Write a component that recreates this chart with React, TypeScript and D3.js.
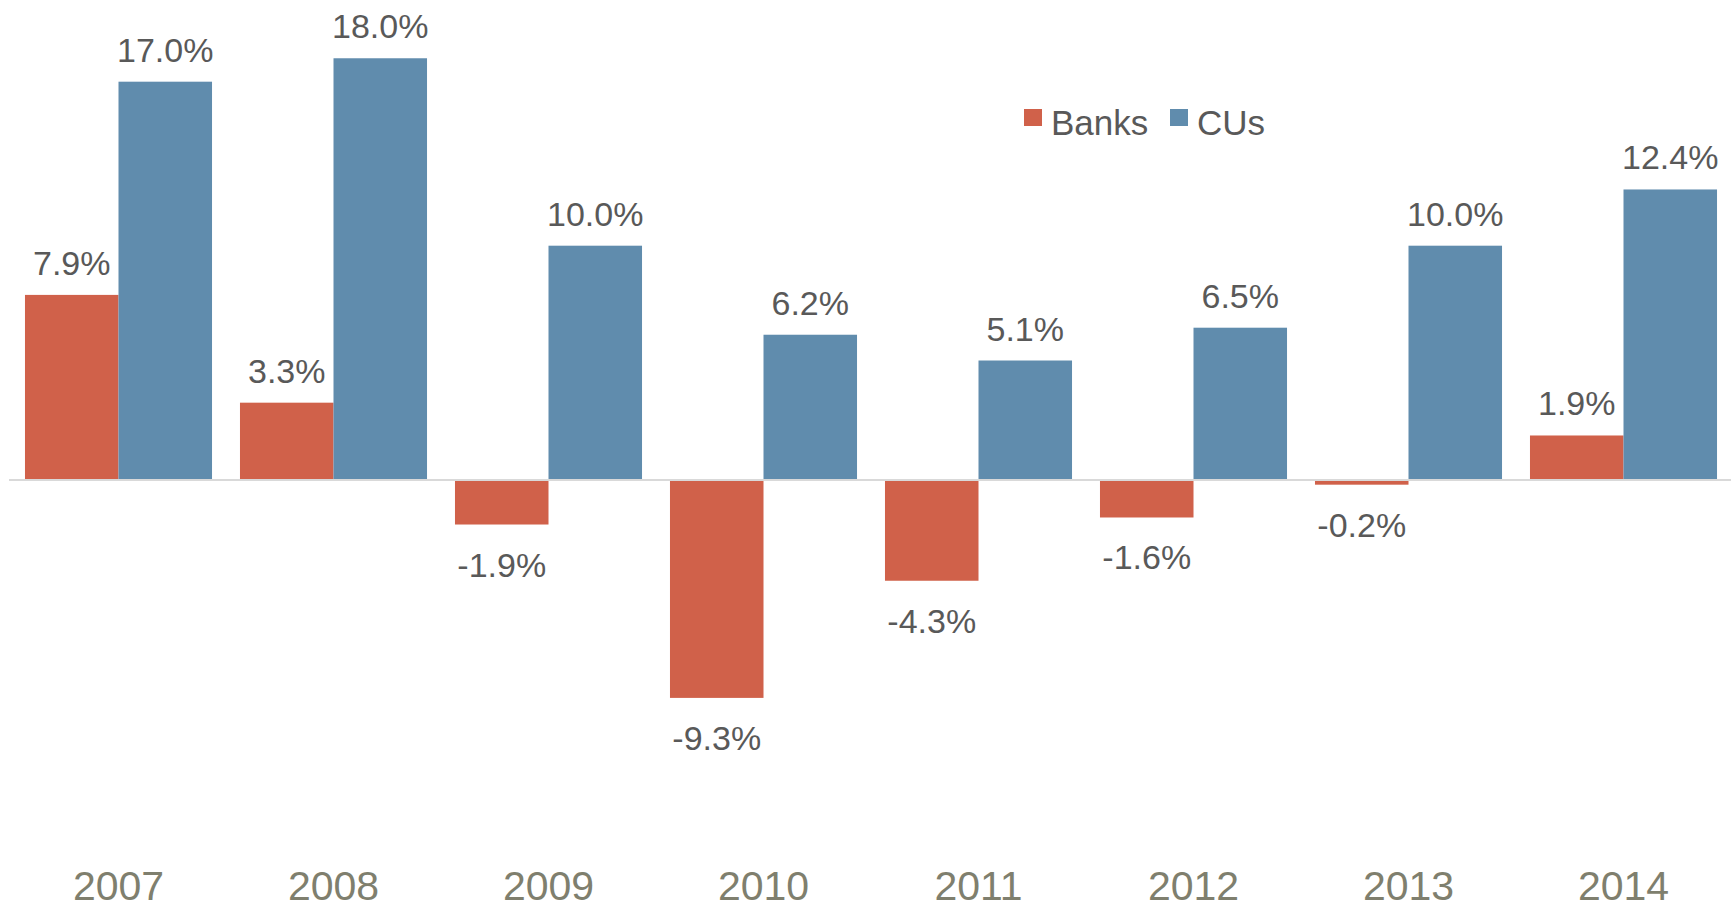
import React from "react";
import * as d3 from "d3";

const years = ["2007", "2008", "2009", "2010", "2011", "2012", "2013", "2014"];
const series = ["Banks", "CUs"];
const banks = [7.9, 3.3, -1.9, -9.3, -4.3, -1.6, -0.2, 1.9];
const cus = [17.0, 18.0, 10.0, 6.2, 5.1, 6.5, 10.0, 12.4];
const colors = ["#d0614a", "#608cad"];

const W = 1735;
const H = 905;
const FONT = "'Liberation Sans', Arial, Helvetica, sans-serif";

export default function App() {
  const x0 = d3.scaleBand<string>().domain(years).range([11, 1731]).paddingInner(0.13).paddingOuter(0.065);
  const x1 = d3.scaleBand<string>().domain(series).range([0, x0.bandwidth()]).padding(0);
  const y = d3.scaleLinear().domain([-10, 20]).range([714.3, 11.4]);
  const values = [banks, cus];
  const fmt = (v: number) => v.toFixed(1) + "%";

  return (
    <svg width={W} height={H} style={{ position: "absolute", left: 0, top: 0, background: "#fff" }}>
      <rect x={0} y={0} width={W} height={H} fill="#fff" />
      {years.map((yr, i) => (
        <g key={yr} transform={`translate(${x0(yr)},0)`}>
          {series.map((s, si) => {
            const v = values[si][i];
            const bx = x1(s)!;
            const top = y(Math.max(0, v));
            const bottom = y(Math.min(0, v));
            return (
              <g key={s}>
                <rect x={bx} y={top} width={x1.bandwidth()} height={bottom - top} fill={colors[si]} />
                <text
                  x={bx + x1.bandwidth() / 2}
                  y={v >= 0 ? top - 20 : bottom + 52}
                  textAnchor="middle"
                  fontFamily={FONT}
                  fontSize={34}
                  fill="#595959"
                >
                  {fmt(v)}
                </text>
              </g>
            );
          })}
          <text
            x={x0.bandwidth() / 2}
            y={900}
            textAnchor="middle"
            fontFamily={FONT}
            fontSize={41}
            fill="#7f7f6e"
          >
            {yr}
          </text>
        </g>
      ))}
      <line x1={9} x2={1731} y1={y(0)} y2={y(0)} stroke="#d9d9d9" strokeWidth={2} />
      <g>
        <rect x={1024} y={109} width={18} height={17} fill={colors[0]} />
        <text x={1051} y={135} fontFamily={FONT} fontSize={35} fill="#595959">
          {series[0]}
        </text>
        <rect x={1170} y={109} width={18} height={17} fill={colors[1]} />
        <text x={1197} y={135} fontFamily={FONT} fontSize={35} fill="#595959">
          {series[1]}
        </text>
      </g>
    </svg>
  );
}
